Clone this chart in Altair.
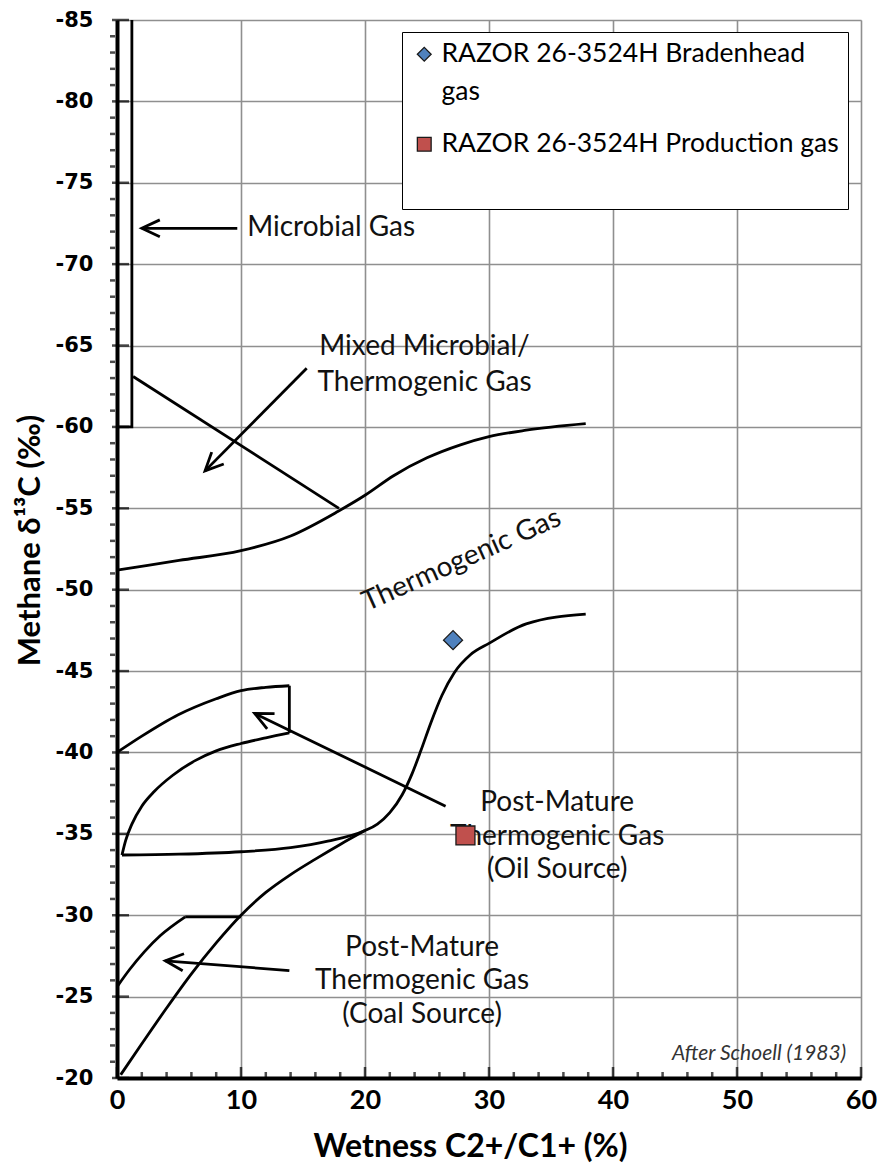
import math
import altair as alt
import pandas as pd

W, H = 744, 1058
X_DOMAIN = [0, 60]
Y_DOMAIN = [-85, -20]

# ---- axis values ----
X_LABEL_VALUES = [0, 10, 20, 30, 40, 50, 60]
Y_LABEL_VALUES = [-85, -80, -75, -70, -65, -60, -55, -50, -45, -40, -35, -30, -25, -20]
X_MINOR = list(range(0, 61, 2))
Y_MINOR = list(range(-85, -19, 1))

# ---- smooth boundary curves ----
therm_upper_x = [0, 5, 10, 14, 17.8, 20, 22.3, 25, 27.7, 30, 33, 37.8]
therm_upper_y = [-51.2, -51.8, -52.4, -53.3, -54.8, -55.8, -57.0, -58.1, -58.9, -59.4, -59.8, -60.2]

therm_lower_x = [0.4, 5, 10, 14, 17, 20, 21, 22, 23, 23.8, 24.5, 25.3, 26.2, 27.2, 28.5, 30, 33, 37.8]
therm_lower_y = [-33.7, -33.75, -33.9, -34.15, -34.55, -35.2, -35.6, -36.3, -37.4, -38.7, -40.1, -41.8, -43.5, -44.9, -46.0, -46.7, -47.9, -48.5]

oil_upper_x = [0, 2, 4.9, 8, 10, 12, 13.9]
oil_upper_y = [-40.0, -41.0, -42.3, -43.3, -43.8, -44.0, -44.1]

oil_lower_x = [0.4, 0.7, 1.2, 2.0, 3.0, 4.5, 6.3, 8, 10, 12, 13.9]
oil_lower_y = [-33.7, -34.6, -35.6, -36.7, -37.6, -38.6, -39.5, -40.1, -40.55, -40.9, -41.2]

coal_lower_x = [0.3, 2, 4, 6, 8, 10, 12, 14, 16, 18, 20]
coal_lower_y = [-20.2, -22.1, -24.3, -26.4, -28.3, -30.0, -31.4, -32.5, -33.45, -34.35, -35.2]

coal_upper_x = [0, 1, 2.2, 3.5, 5.5]
coal_upper_y = [-25.6, -26.65, -27.75, -28.75, -29.9]

# ---- straight segments ----
microbial_x = [0, 1.2, 1.2]
microbial_y = [-60, -60, -85]
mixed_x = [1.3, 17.9]
mixed_y = [-63.1, -55.0]
oil_side_x = [13.9, 13.9]
oil_side_y = [-44.1, -41.2]
coal_top_x = [5.5, 10.0]
coal_top_y = [-29.9, -29.9]

# ---- arrows (tail -> head) ----
arrow_tail_x = [9.7, 15.3, 26.5, 13.9]
arrow_tail_y = [-72.2, -63.6, -36.7, -26.6]
arrow_head_x = [2.0, 7.1, 11.1, 3.9]
arrow_head_y = [-72.2, -57.3, -42.4, -27.2]

# ---- samples ----
SERIES = ["RAZOR 26-3524H Bradenhead gas", "RAZOR 26-3524H Production gas"]
SERIES_COLORS = ["#4F81BD", "#C0504D"]
SERIES_SHAPES = ["diamond", "square"]
sample_x = [27.1, 28.1]
sample_y = [-46.9, -34.9]

# ---- annotations ----
center_text = ["Mixed Microbial/", "Thermogenic Gas",
               "Post-Mature", "Thermogenic Gas", "(Oil Source)",
               "Post-Mature", "Thermogenic Gas", "(Coal Source)"]
center_x = [24.8, 24.8, 35.5, 35.5, 35.5, 24.6, 24.6, 24.6]
center_y = [-64.9, -62.7, -36.9, -34.8, -32.8, -28.0, -25.95, -23.9]

left_text = ["Microbial Gas"]
left_x = [10.5]
left_y = [-72.2]

rot_text = ["Thermogenic Gas"]
rot_x = [27.8]
rot_y = [-51.8]

credit_text = ["After Schoell (1983)"]
credit_x = [58.8]
credit_y = [-21.5]

FONT = "Lato"


def seg_frame(segments):
    rows = []
    for name, xs, ys in segments:
        for i, (a, b) in enumerate(zip(xs, ys)):
            rows.append({"seg": name, "i": i, "x": a, "y": b})
    return pd.DataFrame(rows)


smooth_df = seg_frame([
    ("therm_upper", therm_upper_x, therm_upper_y),
    ("therm_lower", therm_lower_x, therm_lower_y),
    ("oil_upper", oil_upper_x, oil_upper_y),
    ("oil_lower", oil_lower_x, oil_lower_y),
    ("coal_lower", coal_lower_x, coal_lower_y),
    ("coal_upper", coal_upper_x, coal_upper_y),
])
straight_df = seg_frame([
    ("microbial", microbial_x, microbial_y),
    ("mixed", mixed_x, mixed_y),
    ("oil_side", oil_side_x, oil_side_y),
    ("coal_top", coal_top_x, coal_top_y),
])

px_x = W / (X_DOMAIN[1] - X_DOMAIN[0])
px_y = H / (Y_DOMAIN[1] - Y_DOMAIN[0])
angles = []
for tx, ty, hx, hy in zip(arrow_tail_x, arrow_tail_y, arrow_head_x, arrow_head_y):
    a = math.degrees(math.atan2((hy - ty) * px_y, (hx - tx) * px_x)) % 360
    angles.append(a)
arrow_df = pd.DataFrame({"x": arrow_tail_x, "y": arrow_tail_y,
                         "x2": arrow_head_x, "y2": arrow_head_y})
head_df = pd.DataFrame({"x": arrow_head_x, "y": arrow_head_y, "ang": angles})

sample_df = pd.DataFrame({"x": sample_x, "y": sample_y, "series": SERIES})
center_df = pd.DataFrame({"x": center_x, "y": center_y, "t": center_text})
left_df = pd.DataFrame({"x": left_x, "y": left_y, "t": left_text})
rot_df = pd.DataFrame({"x": rot_x, "y": rot_y, "t": rot_text})
credit_df = pd.DataFrame({"x": credit_x, "y": credit_y, "t": credit_text})
xminor_df = pd.DataFrame({"x": [v for v in X_MINOR if v % 10 != 0]})
xmajor_df = pd.DataFrame({"x": X_LABEL_VALUES})
yminor_df = pd.DataFrame({"y": [v for v in Y_MINOR if v % 5 != 0]})
ymajor_df = pd.DataFrame({"y": Y_LABEL_VALUES})

x_scale = alt.Scale(domain=X_DOMAIN, nice=False, zero=False)
y_scale = alt.Scale(domain=Y_DOMAIN, nice=False, zero=False, reverse=True)

X_ENC = alt.X("x:Q", scale=x_scale, axis=alt.Axis(
    values=X_LABEL_VALUES, ticks=False, grid=True, gridColor="#8f8f8f", gridWidth=1.6,
    domainColor="black", domainWidth=4, labelFont=FONT, labelFontWeight="bold",
    labelFontSize=27, labelColor="black", labelPadding=9, labelFlush=False,
    labelOverlap=False, title="Wetness C2+/C1+ (%)", titleFont=FONT,
    titleFontWeight="bold", titleFontSize=32, titleColor="black",
    titleX=353, titleY=68, titleBaseline="middle", titleAnchor="middle"))
Y_ENC = alt.Y("y:Q", scale=y_scale, axis=alt.Axis(
    values=Y_LABEL_VALUES, ticks=False, grid=True, gridColor="#8f8f8f", gridWidth=1.6,
    domainColor="black", domainWidth=4, labelFont="DejaVu Sans", labelFontWeight="bold",
    labelFontSize=21, labelColor="black", labelPadding=24, labelFlush=False,
    labelOverlap=False, labelExpr="toString(datum.value)",
    title="Methane  δ¹³C (‰)", titleFont=FONT,
    titleFontWeight="bold", titleFontSize=31, titleColor="black",
    titleX=-87, titleY=520, titleBaseline="middle", titleAngle=270))

smooth = alt.Chart(smooth_df).mark_line(
    interpolate="monotone", color="black", strokeWidth=2.8).encode(
    x=X_ENC, y=Y_ENC, detail="seg:N", order="i:Q")
straight = alt.Chart(straight_df).mark_line(
    color="black", strokeWidth=2.8).encode(
    x=X_ENC, y=Y_ENC, detail="seg:N", order="i:Q")

shafts = alt.Chart(arrow_df).mark_rule(color="black", strokeWidth=2.8).encode(
    x=X_ENC, y=Y_ENC, x2="x2:Q", y2="y2:Q")
heads = alt.Chart(head_df).mark_point(
    shape="M-1,-0.47L0,0L-1,0.47", filled=False, color="black",
    strokeWidth=2.8, size=1300, opacity=1).encode(
    x=X_ENC, y=Y_ENC, angle=alt.Angle("ang:Q", scale=None))

xminor = alt.Chart(xminor_df).mark_tick(
    orient="vertical", size=6, thickness=2.5, color="black", yOffset=-3).encode(
    x=X_ENC, y=alt.datum(-20))
xmajor = alt.Chart(xmajor_df).mark_tick(
    orient="vertical", size=11, thickness=2.5, color="black", yOffset=-5.5).encode(
    x=X_ENC, y=alt.datum(-20))
yminor = alt.Chart(yminor_df).mark_tick(
    orient="horizontal", size=5, thickness=2.5, color="black", xOffset=-4.5).encode(
    y=Y_ENC, x=alt.datum(0))
ymajor = alt.Chart(ymajor_df).mark_tick(
    orient="horizontal", size=17, thickness=2.5, color="black", xOffset=3.5).encode(
    y=Y_ENC, x=alt.datum(0))

legend_def = alt.Legend(
    title=" ", titleOrient="bottom", titleFontSize=28, titlePadding=14,
    orient="none", legendX=285, legendY=12, fillColor="white",
    strokeColor="black", padding=9, labelFont=FONT, labelFontSize=26.5,
    labelColor="black", labelLimit=600, symbolSize=190,
    symbolStrokeColor="#1a1a1a", symbolStrokeWidth=1.3, rowPadding=25,
    labelOffset=4,
    labelExpr="datum.label == 'RAZOR 26-3524H Bradenhead gas' ? ['RAZOR 26-3524H Bradenhead', 'gas'] : datum.label")

points = alt.Chart(sample_df).mark_point(
    filled=True, size=360, stroke="#1a1a1a", strokeWidth=1.3, opacity=1).encode(
    x=X_ENC, y=Y_ENC,
    color=alt.Color("series:N", scale=alt.Scale(domain=SERIES, range=SERIES_COLORS),
                    legend=legend_def),
    shape=alt.Shape("series:N", scale=alt.Scale(domain=SERIES, range=SERIES_SHAPES),
                    legend=legend_def))

center_t = alt.Chart(center_df).mark_text(
    font=FONT, fontSize=28, color="#111111", align="center", baseline="middle").encode(
    x=X_ENC, y=Y_ENC, text="t:N")
left_t = alt.Chart(left_df).mark_text(
    font=FONT, fontSize=28, color="#111111", align="left", baseline="middle").encode(
    x=X_ENC, y=Y_ENC, text="t:N")
rot_t = alt.Chart(rot_df).mark_text(
    font=FONT, fontSize=28, color="#111111", align="center", baseline="middle",
    angle=336).encode(x=X_ENC, y=Y_ENC, text="t:N")
credit_t = alt.Chart(credit_df).mark_text(
    font=FONT, fontSize=21, fontStyle="italic", color="#333333", align="right",
    baseline="middle").encode(x=X_ENC, y=Y_ENC, text="t:N")

chart = alt.layer(
    smooth, straight, shafts, heads, xminor, xmajor, yminor, ymajor,
    center_t, left_t, rot_t, credit_t, points
).properties(
    width=W, height=H,
    autosize=alt.AutoSizeParams(type="none"),
    padding={"left": 109, "top": 12, "right": 16, "bottom": 86}
).configure_view(stroke="black", strokeWidth=3
).configure(background="white", style={"guide-label": {"lineHeight": 38}})

chart.save("out.html", embed_options={"renderer": "svg", "actions": False})
